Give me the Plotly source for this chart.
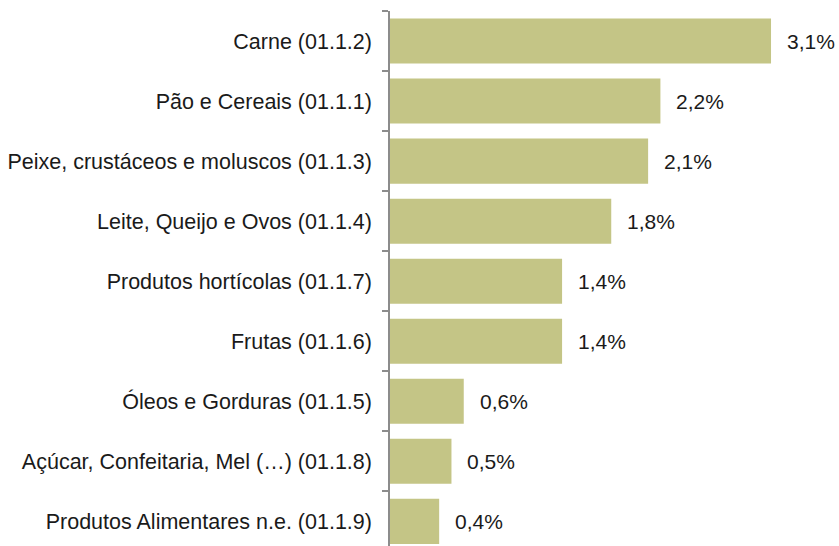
import plotly.graph_objects as go

categories = [
    "Carne (01.1.2)",
    "Pão e Cereais (01.1.1)",
    "Peixe, crustáceos e moluscos (01.1.3)",
    "Leite, Queijo e Ovos (01.1.4)",
    "Produtos hortícolas (01.1.7)",
    "Frutas (01.1.6)",
    "Óleos e Gorduras (01.1.5)",
    "Açúcar, Confeitaria, Mel (…) (01.1.8)",
    "Produtos Alimentares n.e. (01.1.9)",
]
values = [3.1, 2.2, 2.1, 1.8, 1.4, 1.4, 0.6, 0.5, 0.4]
value_labels = ["3,1%", "2,2%", "2,1%", "1,8%", "1,4%", "1,4%", "0,6%", "0,5%", "0,4%"]

BAR = "#c4c586"
FONT = "Liberation Sans, Arial, sans-serif"

fig = go.Figure()
fig.add_trace(go.Bar(
    x=values, y=categories, orientation="h",
    marker=dict(color=BAR, line=dict(width=0)),
    width=0.75, hoverinfo="skip",
))

for c, v, t in zip(categories, values, value_labels):
    fig.add_annotation(x=v, y=c, text=t, showarrow=False,
                       xanchor="left", xshift=14, yanchor="middle",
                       font=dict(family=FONT, size=21, color="#1a1a1a"))

fig.update_layout(
    width=839, height=546,
    margin=dict(l=390, r=0, t=11, b=0, autoexpand=False),
    plot_bgcolor="white", paper_bgcolor="white",
    showlegend=False, bargap=0.25,
    font=dict(family=FONT, size=21, color="#1a1a1a"),
)
fig.update_xaxes(range=[0, 3.653], visible=False, showgrid=False, zeroline=False,
                 automargin=False)
fig.update_yaxes(
    categoryorder="array", categoryarray=categories,
    range=[8.41, -0.5], automargin=False,
    showline=True, linecolor="#8c8c8c", linewidth=1.5,
    ticks="outside", tickson="boundaries", ticklen=6, tickcolor="#8c8c8c", tickwidth=1.5,
    ticklabelstandoff=12,
    showgrid=False, zeroline=False,
    tickfont=dict(family=FONT, size=21.5, color="#1a1a1a"),
)

fig.write_html("out.html",
               config={"displayModeBar": False},
               post_script="document.body.style.margin='0px';document.body.style.overflow='hidden';")
